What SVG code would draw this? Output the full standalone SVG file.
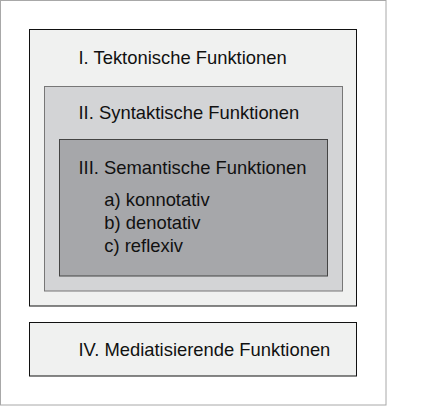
<svg xmlns="http://www.w3.org/2000/svg" width="425" height="407" viewBox="0 0 425 407">
<style>
.t{font-family:"Liberation Sans",Arial,sans-serif;font-size:18.4px;fill:#111;}
</style>
<rect x="0" y="0" width="425" height="407" fill="#fff"/>
<g id="frame"><rect x="0.5" y="0.5" width="385.5" height="404.5" fill="#fff" stroke="#a8a8a8" stroke-width="1"/></g>
<g id="n1">
<rect x="29.5" y="29.5" width="327" height="276.5" fill="#f0f1f0" stroke="#111" stroke-width="1"/>
<text class="t" x="78.5" y="63.5">I. Tektonische Funktionen</text>
</g>
<g id="n2">
<rect x="44.5" y="86.5" width="298" height="204.5" fill="#d3d4d6" stroke="#777" stroke-width="1"/>
<text class="t" x="78.5" y="119">II. Syntaktische Funktionen</text>
</g>
<g id="n3">
<rect x="59.5" y="139.5" width="268" height="136.5" fill="#a6a7aa" stroke="#444" stroke-width="1"/>
<text class="t" x="78.5" y="174.3">III. Semantische Funktionen</text>
<text class="t" x="104.3" y="206">a) konnotativ</text>
<text class="t" x="104.3" y="229">b) denotativ</text>
<text class="t" x="104.3" y="252">c) reflexiv</text>
</g>
<g id="n4">
<rect x="29.5" y="322.5" width="327" height="53.5" fill="#f0f1f0" stroke="#111" stroke-width="1"/>
<text class="t" x="78.5" y="356">IV. Mediatisierende Funktionen</text>
</g>
<g id="connectors"/>
</svg>
